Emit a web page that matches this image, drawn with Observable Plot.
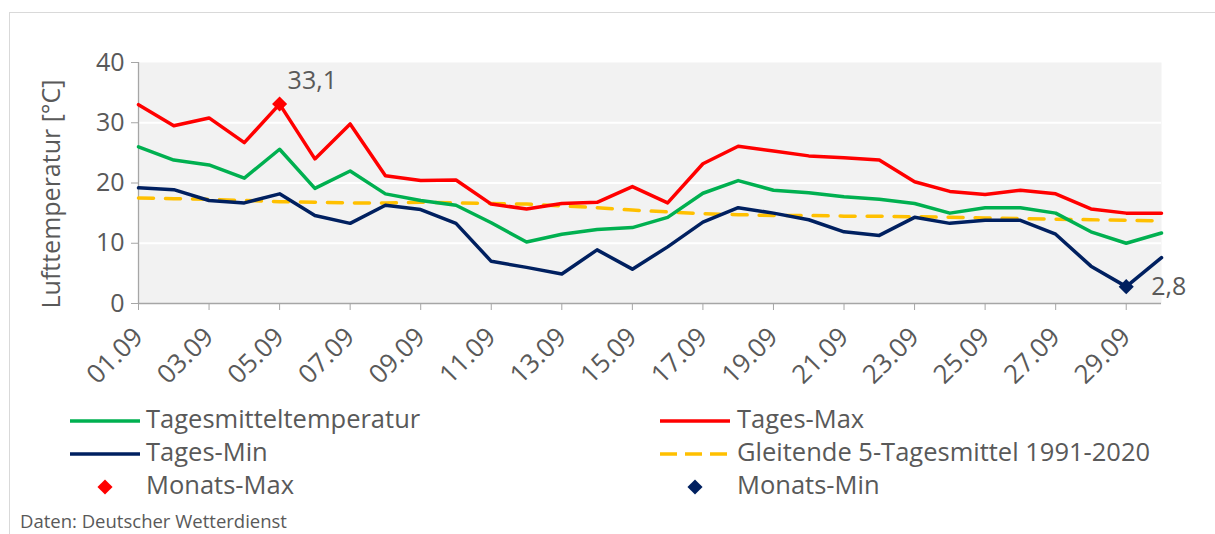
<!DOCTYPE html>
<html><head><meta charset="utf-8">
<script src="https://cdn.jsdelivr.net/npm/d3@7"></script>
<script src="https://cdn.jsdelivr.net/npm/@observablehq/plot@0.6"></script>
<style>
body{margin:0;background:#fff;font-family:"Open Sans",sans-serif;color:#595959;}
#wrap{position:relative;width:1215px;height:534px;overflow:hidden;}
#border{position:absolute;left:9px;top:12px;right:-5px;bottom:-5px;border-top:1px solid #d9d9d9;border-left:1px solid #d9d9d9;}
#chart{position:absolute;left:0;top:0;}
.lg{position:absolute;font-size:25.5px;line-height:1;white-space:nowrap;}
.sw{position:absolute;}
#cap{position:absolute;left:20px;top:512px;font-size:18.5px;line-height:1;white-space:nowrap;}
</style></head>
<body><div id="wrap"><div id="border"></div><div id="chart"></div><div id="legend"></div><div id="cap">Daten: Deutscher Wetterdienst</div></div>
<script>
const days = [1,2,3,4,5,6,7,8,9,10,11,12,13,14,15,16,17,18,19,20,21,22,23,24,25,26,27,28,29,30];
const tMean = [26.0,23.8,23.0,20.8,25.6,19.1,22.0,18.2,17.1,16.3,13.4,10.2,11.5,12.3,12.6,14.3,18.3,20.4,18.8,18.4,17.7,17.3,16.6,15.0,15.9,15.9,15.0,11.9,10.0,11.7];
const tMax = [33.0,29.5,30.8,26.7,33.1,24.0,29.8,21.2,20.4,20.5,16.5,15.7,16.6,16.8,19.4,16.7,23.2,26.1,25.3,24.5,24.2,23.8,20.2,18.6,18.1,18.8,18.2,15.7,15.0,15.0];
const tMin = [19.2,18.9,17.1,16.7,18.2,14.6,13.3,16.3,15.6,13.3,7.0,6.0,4.9,8.9,5.7,9.4,13.5,15.9,15.0,13.9,11.9,11.3,14.3,13.3,13.8,13.8,11.5,6.2,2.8,7.6];
const tClim = [17.5,17.4,17.3,17.1,16.9,16.8,16.7,16.7,16.8,16.7,16.6,16.5,16.2,15.9,15.5,15.2,14.9,14.75,14.6,14.6,14.5,14.5,14.4,14.3,14.2,14.1,14.0,13.9,13.8,13.7];
const xTicks = [1,3,5,7,9,11,13,15,17,19,21,23,25,27,29];
const yTicks = [0,10,20,30,40];
const extremes = [
  {name:"Monats-Max", day:5, value:33.1, label:"33,1"},
  {name:"Monats-Min", day:29, value:2.8, label:"2,8"}
];
const seriesNames = ["Tagesmitteltemperatur","Tages-Max","Tages-Min","Gleitende 5-Tagesmittel 1991-2020","Monats-Max","Monats-Min"];
const colors = {"Tagesmitteltemperatur":"#00b050","Tages-Max":"#ff0000","Tages-Min":"#002060","Gleitende 5-Tagesmittel 1991-2020":"#ffc000","Monats-Max":"#ff0000","Monats-Min":"#002060"};

const rows = (vals)=>days.map((d,i)=>({day:d, value:vals[i]}));
const fmtDay = d => String(d).padStart(2,"0")+".09";

const chart = Plot.plot({
  width:1215, height:400,
  marginLeft:138, marginRight:54, marginTop:62, marginBottom:97,
  style:{background:"transparent", fontFamily:"Open Sans, sans-serif", color:"#595959", overflow:"visible"},
  x:{type:"linear", domain:[1,30]},
  y:{domain:[0,40]},
  marks:[
    Plot.frame({fill:"#f2f2f2", stroke:null}),
    Plot.gridY([10,20,30], {stroke:"#fff", strokeOpacity:1, strokeWidth:2}),
    Plot.ruleX([1], {stroke:"#a6a6a6", strokeWidth:1.3}),
    Plot.ruleY([0], {stroke:"#a6a6a6", strokeWidth:1.3}),
    Plot.axisY(yTicks, {tickSize:7, tickPadding:7, fontSize:25, stroke:"#a6a6a6", fill:"#595959", label:null}),
    Plot.axisX(xTicks, {tickSize:7, tickPadding:22, fontSize:26, tickRotate:-45, tickFormat:fmtDay, stroke:"#a6a6a6", fill:"#595959", label:null}),
    Plot.text(["Lufttemperatur [°C]"], {frameAnchor:"left", textAnchor:"middle", dx:-87, dy:11, rotate:-90, fontSize:25, fill:"#595959"}),
    Plot.line(rows(tClim), {x:"day", y:"value", stroke:colors["Gleitende 5-Tagesmittel 1991-2020"], strokeWidth:3.5, strokeDasharray:"15,12"}),
    Plot.line(rows(tMin), {x:"day", y:"value", stroke:colors["Tages-Min"], strokeWidth:3.5}),
    Plot.line(rows(tMean), {x:"day", y:"value", stroke:colors["Tagesmitteltemperatur"], strokeWidth:3.5}),
    Plot.line(rows(tMax), {x:"day", y:"value", stroke:colors["Tages-Max"], strokeWidth:3.5}),
    Plot.dot(extremes, {x:"day", y:"value", symbol:"diamond2", r:6.8, fill:d=>colors[d.name], stroke:null}),
    Plot.text([extremes[0]], {x:"day", y:"value", text:"label", textAnchor:"start", dx:8, dy:-23, fontSize:25, fill:"#595959"}),
    Plot.text([extremes[1]], {x:"day", y:"value", text:"label", textAnchor:"start", dx:25, dy:0, fontSize:25, fill:"#595959"})
  ]
});
document.getElementById("chart").append(chart);

// legend
const legend = document.getElementById("legend");
const pos = [
  {x:70, y:421, tx:146},
  {x:660, y:421, tx:737},
  {x:70, y:454, tx:146},
  {x:660, y:454, tx:737},
  {x:70, y:487, tx:146},
  {x:660, y:487, tx:737}
];
seriesNames.forEach((name,i)=>{
  const p = pos[i];
  const svg = d3.create("svg").attr("class","sw").attr("width",80).attr("height",20)
    .style("left", p.x+"px").style("top",(p.y-10)+"px");
  if (i<4) {
    svg.append("line").attr("x1",0).attr("x2",70).attr("y1",10).attr("y2",10)
      .attr("stroke",colors[name]).attr("stroke-width",3.5)
      .attr("stroke-dasharray", i===3 ? "17,8" : null);
  } else {
    svg.append("path").attr("transform","translate(35,10)")
      .attr("d", d3.symbol(d3.symbolDiamond2, 6.8*6.8*Math.PI)()).attr("fill",colors[name]);
  }
  legend.append(svg.node());
  const t = document.createElement("div");
  t.className="lg"; t.textContent=name;
  t.style.left=p.tx+"px"; t.style.top=(p.y-15)+"px";
  legend.append(t);
});
</script></body></html>
